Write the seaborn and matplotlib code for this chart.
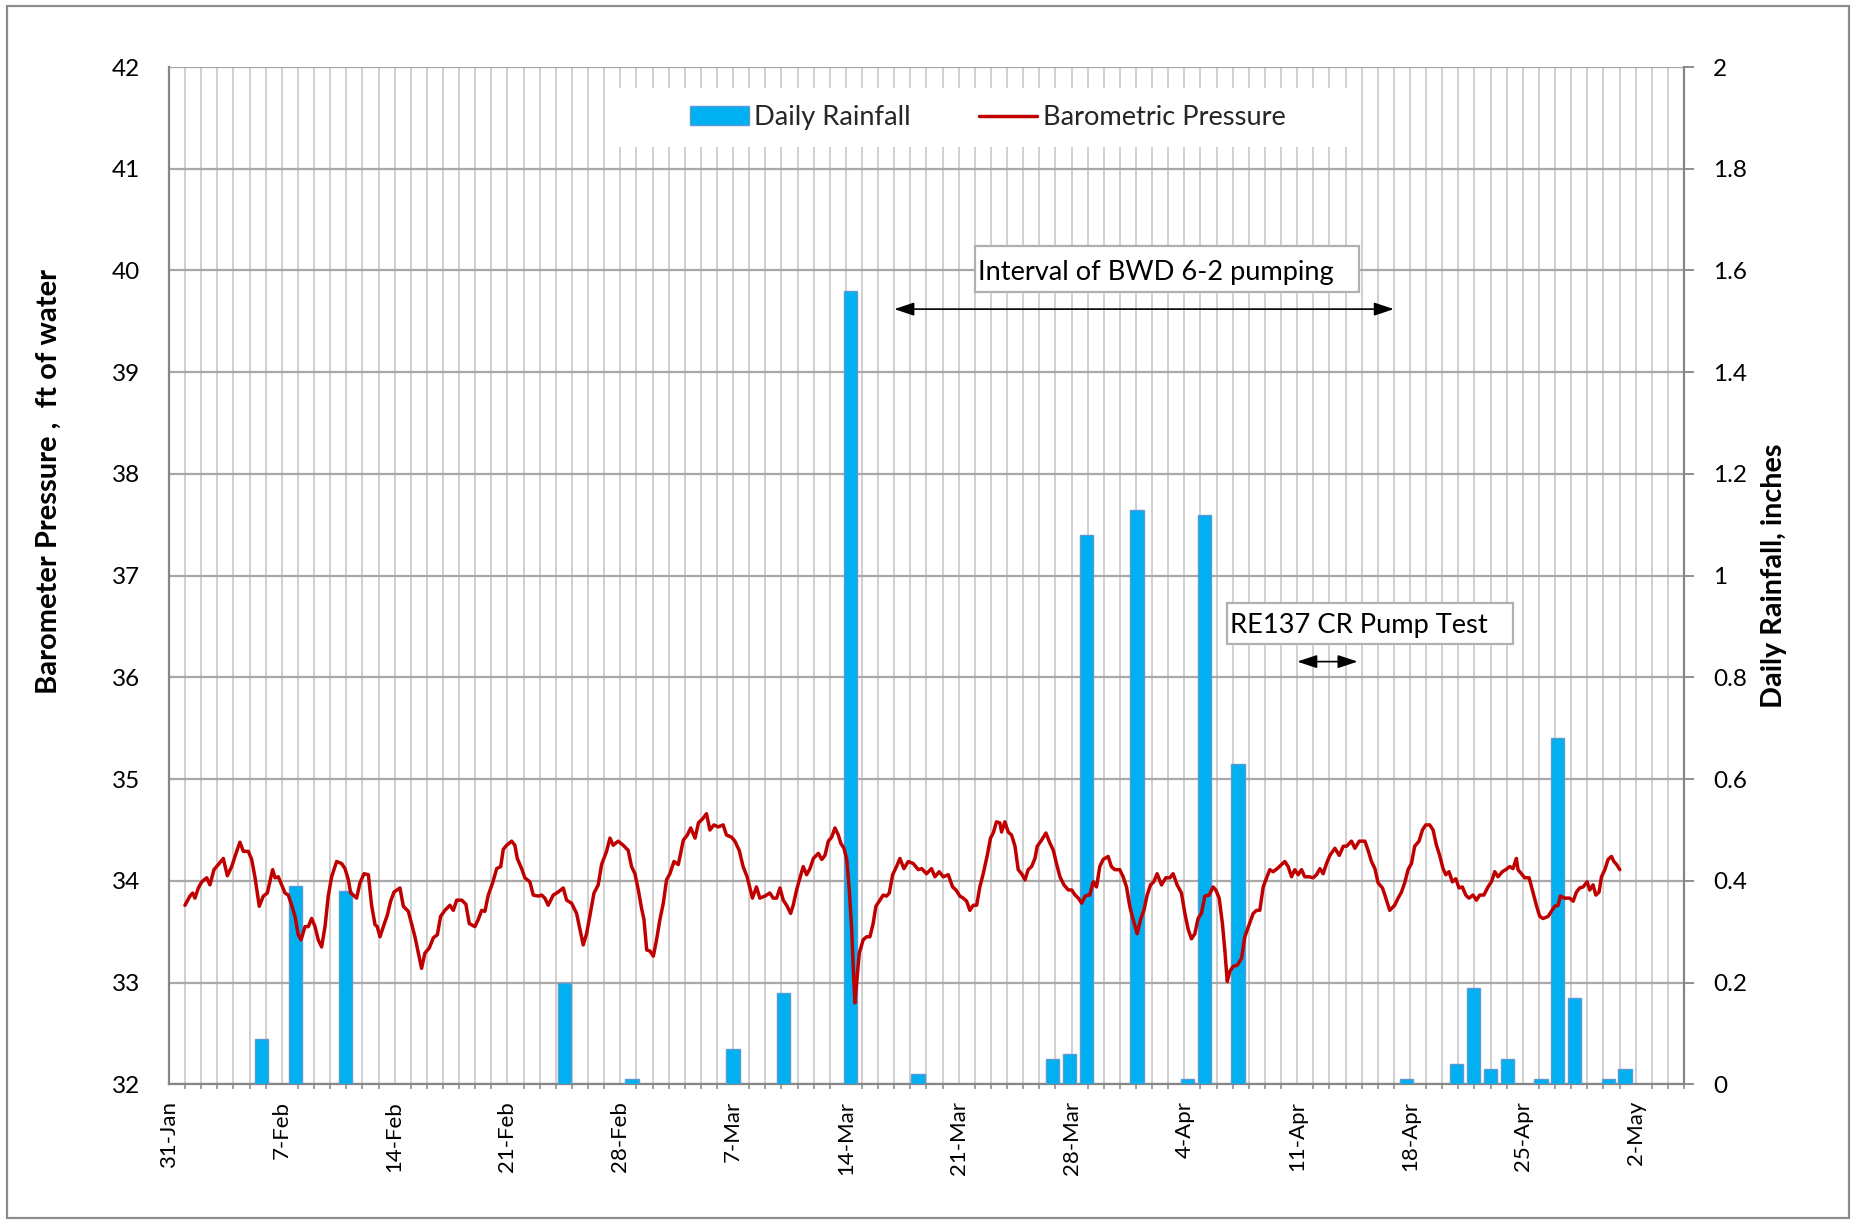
import numpy as np
import pandas as pd
import matplotlib
matplotlib.use("Agg")
import matplotlib.pyplot as plt
import matplotlib.dates as mdates
from matplotlib.ticker import FixedLocator, FuncFormatter
from matplotlib.patches import Rectangle, Patch
from matplotlib.lines import Line2D
import seaborn as sns

sns.set_theme(style="white")
plt.rcParams["font.family"] = ["Lato", "DejaVu Sans"]

# ---------------------------------------------------------------- data
start = pd.Timestamp("2011-01-31")
end = pd.Timestamp("2011-05-05")

# barometric pressure record: time in days after 31-Jan, pressure in ft of water
pressure_day = [
    0.99, 1.30, 1.47, 1.61, 1.82, 2.03, 2.34, 2.54, 2.79, 3.06, 3.37, 3.62, 3.89, 4.20, 4.40,
    4.61, 4.92, 5.13, 5.33, 5.60, 5.85, 6.10, 6.43, 6.58, 6.78, 6.99, 7.20, 7.40, 7.61, 7.82,
    8.02, 8.19, 8.44, 8.64, 8.85, 9.06, 9.26, 9.47, 9.68, 9.88, 10.09, 10.40, 10.71, 10.92,
    11.13, 11.27, 11.44, 11.64, 11.85, 12.10, 12.37, 12.57, 12.78, 12.92, 13.09, 13.30, 13.54,
    13.75, 13.96, 14.33, 14.54, 14.85, 15.05, 15.26, 15.47, 15.67, 15.88, 16.15, 16.40, 16.65,
    16.85, 17.12, 17.43, 17.64, 17.85, 18.16, 18.42, 18.63, 18.98, 19.19, 19.40, 19.60, 19.81,
    20.08, 20.33, 20.58, 20.74, 20.95, 21.26, 21.46, 21.61, 21.88, 22.08, 22.39, 22.60, 22.91,
    23.12, 23.32, 23.53, 23.84, 24.15, 24.46, 24.67, 24.98, 25.29, 25.50, 25.70, 25.91, 26.12,
    26.37, 26.63, 26.84, 27.15, 27.36, 27.56, 27.87, 28.18, 28.49, 28.70,
    28.91, 29.12, 29.32, 29.47, 29.64, 29.84, 30.05, 30.25, 30.46, 30.67, 30.87, 31.08, 31.33,
    31.60, 31.91, 32.16, 32.37, 32.64, 32.85, 33.11, 33.35, 33.56, 33.81, 34.07, 34.38, 34.59,
    34.90, 35.11, 35.38, 35.62, 35.87, 36.04, 36.20, 36.45, 36.66, 36.97, 37.28, 37.49, 37.70,
    37.91, 38.11, 38.32, 38.57, 38.73, 38.94, 39.15, 39.35, 39.56, 39.77, 39.98, 40.29, 40.50,
    40.70, 40.91, 41.12, 41.32, 41.53, 41.68, 41.88, 42.05, 42.21, 42.36, 42.45, 42.56, 42.66,
    42.83, 43.07, 43.28, 43.49, 43.69, 43.86, 44.11, 44.31, 44.52, 44.69, 44.90, 45.14, 45.35,
    45.60, 45.87, 46.18, 46.49, 46.70, 47.00, 47.31, 47.52, 47.79, 48.04, 48.35, 48.62, 48.83,
    49.07, 49.28, 49.49, 49.69, 49.90, 50.11, 50.31, 50.52, 50.77, 50.97, 51.14, 51.34, 51.55,
    51.66, 51.86, 52.07, 52.28, 52.49, 52.69, 52.90, 53.11, 53.31, 53.52, 53.73, 53.87, 54.14,
    54.41, 54.66, 54.87, 55.08, 55.28, 55.53, 55.80, 56.01, 56.22, 56.42, 56.63, 56.84, 57.03,
    57.13, 57.34, 57.55, 57.75, 57.96, 58.27, 58.47, 58.68, 58.99, 59.20, 59.41, 59.61, 59.82,
    60.07, 60.28, 60.49, 60.69, 60.90, 61.10, 61.31, 61.58, 61.85, 62.10, 62.30, 62.55, 62.82,
    63.03, 63.24, 63.44, 63.65, 63.85, 64.06, 64.27, 64.54, 64.78, 64.95, 65.16, 65.36, 65.51,
    65.66, 65.82, 66.03, 66.28, 66.55, 66.75, 67.02, 67.27, 67.48, 67.68, 67.89, 68.10, 68.30,
    68.51, 68.76, 69.03, 69.23, 69.44, 69.65, 69.85, 70.06, 70.27, 70.47, 70.74, 70.99, 71.20,
    71.41, 71.61, 71.82, 72.03, 72.34, 72.61, 72.86, 73.06, 73.37, 73.58, 73.85, 74.20, 74.40,
    74.61, 74.82, 75.02, 75.29, 75.44,
    75.74, 76.05, 76.26, 76.47, 76.67, 76.88, 77.09, 77.29, 77.56, 77.77, 77.98, 78.22, 78.43,
    78.64, 78.84, 79.05, 79.22, 79.42, 79.63, 79.84, 80.04, 80.25, 80.46, 80.66, 80.91, 81.12,
    81.33, 81.58, 81.84, 82.05, 82.26, 82.46, 82.73, 82.94, 83.19, 83.39, 83.60, 83.70, 83.91,
    84.12, 84.39, 84.59, 84.84, 85.05, 85.26, 85.57, 85.77, 85.98, 86.19, 86.33, 86.60, 86.91,
    87.12, 87.33, 87.53, 87.74, 87.99, 88.15, 88.36, 88.53, 88.73, 88.88, 89.09, 89.29, 89.50,
    89.65, 89.82, 90.02,
]
pressure_ft = [
    33.76, 33.85, 33.88, 33.83, 33.93, 33.99, 34.03, 33.96, 34.11, 34.16, 34.22, 34.05, 34.14,
    34.29, 34.38, 34.29, 34.29, 34.21, 34.04, 33.75, 33.85, 33.88, 34.11, 34.03, 34.04, 33.96,
    33.88, 33.86, 33.76, 33.65, 33.47, 33.42, 33.55, 33.55, 33.63, 33.55, 33.42, 33.35, 33.55,
    33.85, 34.04, 34.19, 34.17, 34.12, 34.01, 33.88, 33.86, 33.83, 33.98, 34.07, 34.06, 33.76,
    33.57, 33.55, 33.45, 33.55, 33.66, 33.80, 33.89, 33.93, 33.75, 33.70, 33.58, 33.45, 33.29,
    33.14, 33.29, 33.34, 33.44, 33.47, 33.65, 33.71, 33.76, 33.71, 33.81, 33.81, 33.77, 33.58,
    33.55, 33.62, 33.71, 33.70, 33.86, 33.98, 34.12, 34.14, 34.31, 34.35, 34.39, 34.35, 34.22,
    34.12, 34.03, 33.99, 33.86, 33.85, 33.86, 33.83, 33.76, 33.86, 33.89, 33.93, 33.81, 33.78,
    33.68, 33.52, 33.37, 33.48, 33.66, 33.88, 33.96, 34.16, 34.29, 34.42, 34.35, 34.39, 34.35,
    34.30, 34.14,
    34.07, 33.91, 33.73, 33.62, 33.32, 33.31, 33.26, 33.42, 33.62, 33.78, 34.01, 34.07, 34.19,
    34.16, 34.40, 34.45, 34.52, 34.42, 34.57, 34.61, 34.66, 34.50, 34.55, 34.53, 34.55, 34.45,
    34.43, 34.39, 34.30, 34.14, 34.04, 33.93, 33.83, 33.94, 33.83, 33.85, 33.88, 33.83, 33.83,
    33.93, 33.81, 33.76, 33.68, 33.76, 33.91, 34.03, 34.14, 34.06, 34.12, 34.22, 34.27, 34.21,
    34.25, 34.39, 34.43, 34.52, 34.45, 34.37, 34.32, 34.21, 33.91, 33.52, 33.16, 32.80, 32.99,
    33.29, 33.42, 33.45, 33.45, 33.58, 33.75, 33.81, 33.86, 33.85, 33.88, 34.06, 34.14, 34.22,
    34.12, 34.19, 34.17, 34.11, 34.12, 34.07, 34.12, 34.04, 34.09, 34.04, 34.06, 33.94, 33.91,
    33.85, 33.83, 33.80, 33.71, 33.76, 33.76, 33.94, 34.07, 34.25, 34.42, 34.47, 34.58, 34.57,
    34.48, 34.58, 34.48, 34.45, 34.34, 34.11, 34.07, 34.01, 34.11, 34.14, 34.22, 34.34, 34.40,
    34.47, 34.37, 34.30, 34.16, 34.04, 33.96, 33.91, 33.91, 33.86, 33.83, 33.78, 33.85, 33.86,
    33.86, 33.99, 33.94, 34.14, 34.21, 34.24, 34.14, 34.11, 34.11, 34.04, 33.94, 33.75, 33.62,
    33.48, 33.62, 33.71, 33.86, 33.96, 33.99, 34.07, 33.96, 34.03, 34.03, 34.07, 33.96, 33.88,
    33.68, 33.52, 33.43, 33.48, 33.63, 33.68, 33.85, 33.86, 33.94, 33.91, 33.83, 33.58, 33.32,
    33.01, 33.11, 33.16, 33.17, 33.24, 33.45, 33.57, 33.68, 33.71, 33.71, 33.94, 34.03, 34.11,
    34.09, 34.12, 34.16, 34.19, 34.14, 34.04, 34.11, 34.06, 34.11, 34.04, 34.04, 34.03, 34.06,
    34.12, 34.07, 34.17, 34.25, 34.32, 34.25, 34.34, 34.34, 34.39, 34.32, 34.39, 34.39, 34.30,
    34.19, 34.12, 33.98, 33.93, 33.86,
    33.71, 33.76, 33.83, 33.89, 33.98, 34.11, 34.17, 34.34, 34.39, 34.50, 34.55, 34.55, 34.50,
    34.35, 34.25, 34.12, 34.06, 34.09, 33.99, 34.02, 33.93, 33.94, 33.86, 33.83, 33.86, 33.81,
    33.86, 33.86, 33.94, 33.99, 34.09, 34.04, 34.09, 34.11, 34.14, 34.12, 34.22, 34.11, 34.07,
    34.03, 34.03, 33.91, 33.76, 33.65, 33.63, 33.65, 33.70, 33.75, 33.76, 33.85, 33.83, 33.83,
    33.80, 33.89, 33.93, 33.94, 33.99, 33.91, 33.96, 33.86, 33.89, 34.04, 34.11, 34.21, 34.24,
    34.19, 34.16, 34.11,
]

# daily rainfall totals (inches); days not listed had no rain
rain_days = pd.date_range(start, periods=90, freq="D").strftime("%Y-%m-%d").tolist()
rain_dates = [
    "2011-02-05", "2011-02-07", "2011-02-10", "2011-02-23", "2011-02-27", "2011-03-05",
    "2011-03-08", "2011-03-12", "2011-03-16", "2011-03-24", "2011-03-25", "2011-03-26",
    "2011-03-29", "2011-04-01", "2011-04-02", "2011-04-04", "2011-04-14", "2011-04-17",
    "2011-04-18", "2011-04-19", "2011-04-20", "2011-04-22", "2011-04-23", "2011-04-24",
    "2011-04-26", "2011-04-27",
]
rain_in = [
    0.09, 0.39, 0.38, 0.20, 0.01, 0.07,
    0.18, 1.56, 0.02, 0.05, 0.06, 1.08,
    1.13, 0.01, 1.12, 0.63, 0.01, 0.04,
    0.19, 0.03, 0.05, 0.01, 0.68, 0.17,
    0.01, 0.03,
]

# pumping intervals shown with double arrows
bwd_interval = ("2011-03-17", "2011-04-17")
re137_interval = ("2011-04-11 00:00", "2011-04-14 18:00")

week_ticks = pd.date_range(start, "2011-05-02", freq="7D")
day_ticks = pd.date_range(start, end, freq="D")

# ---------------------------------------------------------------- figure
W, H, DPI = 1855, 1222, 100
fig = plt.figure(figsize=(W / DPI, H / DPI), dpi=DPI)
fig.patch.set_facecolor("white")

AX_L, AX_R, AX_T, AX_B = 169, 1684, 67, 1084.3
pos = [AX_L / W, 1 - AX_B / H, (AX_R - AX_L) / W, (AX_B - AX_T) / H]

SPINE = "#868686"
GRID_H = "#A8A8A8"
GRID_V = "#D0D0D0"
BAR = "#00B0F0"
LINE = "#C00000"

# base axes: grid, date axis and pressure scale
ax = fig.add_axes(pos, zorder=0)
ax.set_facecolor("white")
ax.set_xlim(mdates.date2num(start), mdates.date2num(end))
ax.set_ylim(32, 42)
ax.set_yticks(range(32, 43))
ax.xaxis.set_major_locator(FixedLocator(mdates.date2num(week_ticks)))
ax.xaxis.set_minor_locator(FixedLocator(mdates.date2num(day_ticks)))


def day_label(v, _):
    d = mdates.num2date(v)
    return f"{d.day}-{d.strftime('%b')}"


ax.xaxis.set_major_formatter(FuncFormatter(day_label))
ax.grid(which="both", axis="x", color=GRID_V, lw=1.4)
ax.grid(which="major", axis="y", color=GRID_H, lw=1.6)
ax.set_axisbelow(True)
for side in ("top", "right"):
    ax.spines[side].set_visible(False)
for side in ("left", "bottom"):
    ax.spines[side].set_color(SPINE)
    ax.spines[side].set_linewidth(1.6)
ax.tick_params(axis="y", which="major", direction="out", length=7.2, width=1.3,
               color=SPINE, labelsize=17.5, pad=13.5, labelcolor="black")
ax.tick_params(axis="x", which="major", direction="out", length=5, width=1.3,
               color=SPINE, labelsize=16, pad=7, labelrotation=90, labelcolor="black")
ax.tick_params(axis="x", which="minor", direction="out", length=3.6, width=1.1,
               color=SPINE, bottom=True)
ax.set_ylabel("Barometer Pressure ,  ft of water", fontsize=21, fontweight="bold",
              color="black")
ax.yaxis.set_label_coords((62 - AX_L) / (AX_R - AX_L), (AX_B - 482) / (AX_B - AX_T))

# rainfall bars on their own daily category axis
ax_bar = fig.add_axes(pos, zorder=2)
ax_bar.set_facecolor("none")
rain_df = pd.DataFrame({"day": rain_dates, "rain": rain_in})
sns.barplot(data=rain_df, x="day", y="rain", order=rain_days, ax=ax_bar,
            color=BAR, saturation=1, width=0.8, edgecolor="#5B9BD5", linewidth=1)
ax_bar.set_xlim(-0.5, len(rain_days) - 0.5)
ax_bar.set_ylim(0, 2)
ax_bar.set_xticks([])
ax_bar.set_xlabel("")
ax_bar.yaxis.tick_right()
ax_bar.yaxis.set_label_position("right")
rain_ticks = np.round(np.arange(0, 2.01, 0.2), 1)
ax_bar.set_yticks(rain_ticks)
ax_bar.set_yticklabels([f"{v:g}" for v in rain_ticks])
ax_bar.tick_params(axis="y", which="major", direction="out", length=7.2, width=1.3,
                   color=SPINE, labelsize=17.5, pad=13.5, labelcolor="black",
                   right=True, left=False)
for side in ("top", "left", "bottom"):
    ax_bar.spines[side].set_visible(False)
ax_bar.spines["right"].set_color(SPINE)
ax_bar.spines["right"].set_linewidth(1.6)
ax_bar.set_ylabel("Daily Rainfall, inches", fontsize=20.7, fontweight="bold",
                  color="black", rotation=90)
ax_bar.yaxis.set_label_coords((1761 - AX_L) / (AX_R - AX_L), 0.5)

# pressure line on top of the bars
ax_line = fig.add_axes(pos, zorder=3, sharex=ax, sharey=ax)
ax_line.set_facecolor("none")
press_df = pd.DataFrame({
    "time": start + pd.to_timedelta(pressure_day, unit="D"),
    "pressure": pressure_ft,
})
press_df["t"] = mdates.date2num(press_df["time"])
sns.lineplot(data=press_df, x="t", y="pressure", ax=ax_line, color=LINE, lw=2.5,
             sort=False, estimator=None)
ax_line.set_axis_off()

# interval arrows
arrow = dict(arrowstyle="<|-|>,head_length=0.6,head_width=0.2", color="black",
             lw=1.2, shrinkA=0, shrinkB=0, mutation_scale=20)
for (t0, t1), lvl in ((bwd_interval, 39.62), (re137_interval, 36.155)):
    ax_line.annotate("", xy=(mdates.date2num(pd.Timestamp(t1)), lvl),
                     xytext=(mdates.date2num(pd.Timestamp(t0)), lvl),
                     arrowprops=arrow)

# label boxes for the intervals
def text_box(x0, y0, x1, y1, tx, ty, label):
    fig.add_artist(Rectangle((x0 / W, 1 - y1 / H), (x1 - x0) / W, (y1 - y0) / H,
                             transform=fig.transFigure, facecolor="white",
                             edgecolor="#B0B0B0", lw=1.6, zorder=8))
    fig.text(tx / W, 1 - ty / H, label, fontsize=19.6, ha="left", va="baseline",
             color="black", zorder=9)


text_box(975, 246, 1359, 292, 978, 280, "Interval of BWD 6-2 pumping")
text_box(1227, 603, 1513, 644, 1230, 633, "RE137 CR Pump Test")

# legend on a plain white panel
fig.add_artist(Rectangle((619 / W, 1 - 147 / H), (1350 - 619) / W, (147 - 88) / H,
                         transform=fig.transFigure, facecolor="white",
                         edgecolor="none", zorder=8))
handles = [Patch(facecolor=BAR, edgecolor="#5B9BD5", lw=1),
           Line2D([], [], color=LINE, lw=2.5)]
leg = fig.legend(handles, ["Daily Rainfall", "Barometric Pressure"], loc="center",
                 bbox_to_anchor=(988 / W, 1 - 117.5 / H), ncol=2, frameon=False,
                 fontsize=19.6, handlelength=2.15, handleheight=0.66,
                 handletextpad=0.2, columnspacing=2.5)
leg.set_zorder(9)

# outer chart border
fig.add_artist(Rectangle((7 / W, 1 - 1218 / H), (1849 - 7) / W, (1218 - 6) / H,
                         transform=fig.transFigure, facecolor="none",
                         edgecolor="#8C8C8C", lw=1.6, zorder=10))

fig.savefig("out.png", dpi=DPI, facecolor="white")
